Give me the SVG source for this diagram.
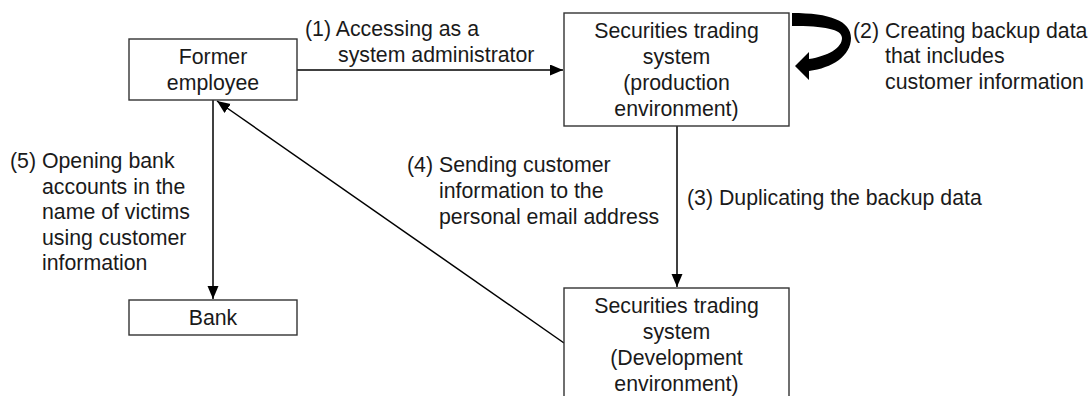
<svg xmlns="http://www.w3.org/2000/svg" width="1092" height="396" viewBox="0 0 1092 396">
  <style>
    .box { fill: #ffffff; stroke: #333333; stroke-width: 1.4; }
    .t { font-family: "Liberation Sans", Arial, sans-serif; font-size: 21.3px; fill: #1a1a1a; }
    .c { text-anchor: middle; }
    .edge { fill: none; stroke: #000000; stroke-width: 1.5; }
  </style>
  <defs>
    <marker id="arrow" markerUnits="userSpaceOnUse" markerWidth="14" markerHeight="12" refX="13" refY="5.5" orient="auto">
      <path d="M0,0 L13,5.5 L0,11 Z" fill="#000000"/>
    </marker>
  </defs>

  <rect width="1092" height="396" fill="#ffffff"/>

  <!-- connectors -->
  <g id="connectors">
    <path class="edge" d="M297,70 L563,70" marker-end="url(#arrow)"/>
    <path class="edge" d="M677,126 L677,287" marker-end="url(#arrow)"/>
    <path class="edge" d="M564,343 L217,101" marker-end="url(#arrow)"/>
    <path class="edge" d="M213,100 L213,299" marker-end="url(#arrow)"/>
    <!-- thick curved self-loop on the production system -->
    <path d="M792,13 C830,13 851,21 851,38 C851,56 832,68 809,71 L809,80 L795,66 L809,52 L809,59 C828,56 842,48 842,38 C842,29 824,26 792,26 Z" fill="#000000"/>
  </g>

  <!-- edge labels -->
  <g id="labels">
    <text class="t" x="305" y="36">(1) Accessing as a</text>
    <text class="t" x="338" y="62">system administrator</text>

    <text class="t" x="853" y="38">(2) Creating backup data</text>
    <text class="t" x="885" y="63">that includes</text>
    <text class="t" x="885" y="89">customer information</text>

    <text class="t" x="687" y="205">(3) Duplicating the backup data</text>

    <text class="t" x="407" y="172">(4) Sending customer</text>
    <text class="t" x="439" y="198">information to the</text>
    <text class="t" x="439" y="224">personal email address</text>

    <text class="t" x="10" y="168">(5) Opening bank</text>
    <text class="t" x="42" y="193.5">accounts in the</text>
    <text class="t" x="42" y="219">name of victims</text>
    <text class="t" x="42" y="244.5">using customer</text>
    <text class="t" x="42" y="270">information</text>
  </g>

  <g id="former-employee">
    <rect class="box" x="129" y="39" width="168" height="61"/>
    <text class="t c" x="213" y="64">Former</text>
    <text class="t c" x="213" y="90">employee</text>
  </g>

  <g id="production-system">
    <rect class="box" x="564" y="13" width="225" height="113"/>
    <text class="t c" x="676.5" y="38">Securities trading</text>
    <text class="t c" x="676.5" y="64">system</text>
    <text class="t c" x="676.5" y="90">(production</text>
    <text class="t c" x="676.5" y="116">environment)</text>
  </g>

  <g id="development-system">
    <rect class="box" x="564" y="288" width="225" height="113"/>
    <text class="t c" x="676.5" y="313">Securities trading</text>
    <text class="t c" x="676.5" y="339">system</text>
    <text class="t c" x="676.5" y="365">(Development</text>
    <text class="t c" x="676.5" y="391">environment)</text>
  </g>

  <g id="bank">
    <rect class="box" x="129" y="300" width="168" height="35"/>
    <text class="t c" x="213" y="325">Bank</text>
  </g>
</svg>
